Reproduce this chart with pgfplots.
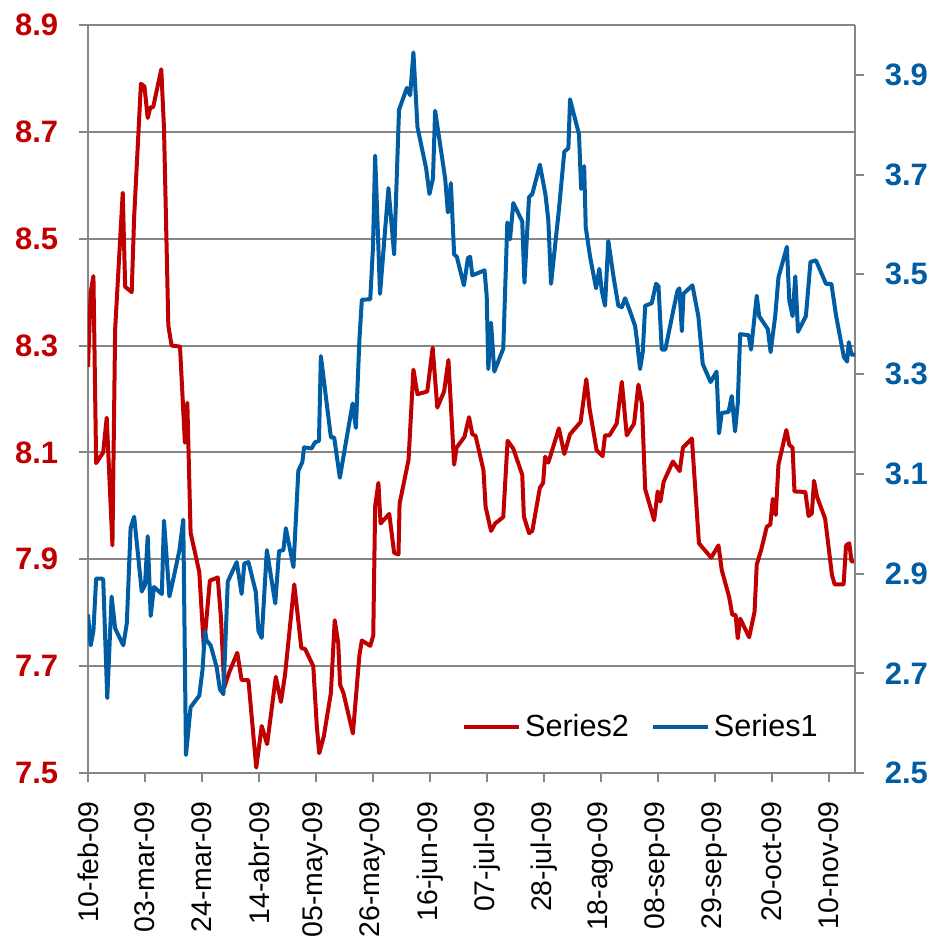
\documentclass[border=0pt]{standalone}
\usepackage{pgfplots}
\pgfplotsset{compat=1.18}
\usepackage{fontspec}
\setmainfont{Liberation Sans}
\definecolor{sred}{RGB}{192,0,0}
\definecolor{sblue}{RGB}{0,92,163}
\definecolor{ggray}{RGB}{134,134,134}

\pgfplotsset{
  common/.style={
    scale only axis, width=383.5pt, height=374pt,
    xmin=0, xmax=282.6,
    /pgf/number format/assume math mode=true,
    axis line style={draw=ggray, line width=1pt, -},
    every outer x axis line/.append style={-},
    every outer y axis line/.append style={-},
    tick style={draw=ggray, line width=1pt},
    tick align=outside,
    major tick length=4.5pt,
  }
}

\begin{document}
\begin{tikzpicture}
\path[use as bounding box] (-44pt,-82.5pt) rectangle (421.5pt,386.5pt);
\begin{axis}[
  common,
  ymin=7.5, ymax=8.9,
  axis x line*=bottom, axis y line*=left,
  xtick={0,21,42,63,84,105,126,147,168,189,210,231,252,273},
  xticklabels={10-feb-09,03-mar-09,24-mar-09,14-abr-09,05-may-09,26-may-09,16-jun-09,07-jul-09,28-jul-09,18-ago-09,08-sep-09,29-sep-09,20-oct-09,10-nov-09},
  xticklabel style={rotate=90, anchor=east, inner xsep=9.5pt, font=\fontsize{14.2}{17}\selectfont, text=black},
  ytick={7.5,7.7,7.9,8.1,8.3,8.5,8.7,8.9},
  yticklabel style={/pgf/number format/.cd, fixed, fixed zerofill, precision=1, /tikz/.cd, inner xsep=10.2pt, font=\fontsize{15.5}{18}\selectfont\bfseries, text=sred},
  ymajorgrids, grid style={draw=ggray, line width=1pt},
]
\addplot[sred, line width=2pt, line join=round] coordinates {
(0,8.26) (1,8.40) (2,8.43) (3,8.08) (5.6,8.10) (6.9,8.165) (9,7.926) (10,8.33)
(12.8,8.586) (13.7,8.41) (16.1,8.40) (17,8.54) (19.5,8.79) (20.8,8.785) (22,8.726)
(23,8.746) (24,8.746) (27,8.817) (28,8.707) (29.6,8.337) (30.8,8.30) (33.9,8.298)
(35.7,8.118) (36.6,8.193) (37.8,7.95) (41,7.876) (42.7,7.734) (44.9,7.86) (47.8,7.866)
(49,7.79) (50.2,7.66) (52,7.688) (55,7.725) (56.6,7.674) (59.1,7.674) (62,7.51)
(64,7.588) (66,7.554) (69.2,7.68) (71.1,7.633) (72.6,7.684) (76,7.853) (78.6,7.734)
(80,7.732) (83,7.70) (84.3,7.588) (85.2,7.537) (86.9,7.569) (89.5,7.65) (90.9,7.786)
(92.2,7.743) (92.9,7.665) (94.1,7.65) (97.6,7.574) (100,7.72) (100.9,7.748) (104,7.738)
(105.1,7.757) (105.8,7.999) (107,8.043) (107.8,7.967) (111,7.985) (112.8,7.912)
(114.4,7.909) (114.8,8.004) (118.1,8.086) (119.9,8.255) (121.4,8.209) (125,8.214)
(127,8.296) (128.7,8.184) (131.2,8.214) (132.8,8.273) (134.9,8.077) (135.8,8.109)
(138.7,8.129) (140.4,8.166) (141.6,8.134) (142.8,8.131) (145.7,8.067) (146.5,7.998)
(148.5,7.953) (150,7.967) (153,7.979) (154.6,8.122) (156.7,8.107) (160,8.058)
(160.6,7.98) (162.5,7.949) (163.7,7.953) (166.5,8.034) (167.7,8.043) (168.4,8.092)
(169.6,8.081) (173.5,8.145) (175.5,8.097) (177.6,8.134) (181.5,8.157) (183.6,8.237)
(184.8,8.182) (187.4,8.104) (189.6,8.093) (190.5,8.132) (192.1,8.132) (194.8,8.154)
(196.7,8.232) (198.5,8.132) (201.2,8.154) (202.8,8.227) (204.1,8.191) (205.3,8.031)
(208.6,7.973) (209.9,8.027) (210.9,8.008) (212.1,8.045) (215.5,8.083) (218,8.065)
(219.2,8.109) (222.5,8.126) (225.1,7.93) (229.6,7.903) (232.3,7.926) (233.5,7.88)
(236.2,7.83) (237.4,7.796) (238.6,7.796) (239.4,7.752) (240.3,7.789) (243.6,7.754)
(245.6,7.802) (246.4,7.89) (248,7.917) (250.1,7.961) (251.4,7.965) (252.3,8.013)
(253.4,7.983) (254.4,8.077) (257.3,8.142) (258.4,8.114) (259.6,8.109) (260.3,8.027)
(264.3,8.026) (265.5,7.981) (266.7,7.986) (267.5,8.047) (268.6,8.017) (271.6,7.976)
(274.1,7.871) (275.1,7.853) (278.4,7.853) (279.3,7.926) (280.5,7.93) (281.3,7.896)
(282.6,7.896)
};
\end{axis}
\begin{axis}[
  common,
  ymin=2.5, ymax=4.0,
  hide x axis, axis y line*=right,
  ytick={2.5,2.7,2.9,3.1,3.3,3.5,3.7,3.9},
  yticklabel style={/pgf/number format/.cd, fixed, fixed zerofill, precision=1, /tikz/.cd, inner xsep=10.2pt, font=\fontsize{15.5}{18}\selectfont\bfseries, text=sblue},
  legend columns=2,
  legend style={draw=none, fill=none, at={(axis description cs:0.957,0.0615)}, anchor=east,
    font=\fontsize{15.3}{18}\selectfont, inner sep=0pt,
    /tikz/every even column/.append style={column sep=9pt}},
  legend image code/.code={\draw[#1] (0pt,0pt) -- (27.5pt,0pt);},
]
\addlegendimage{sred, line width=2pt}
\addlegendentry{Series2}
\addplot[sblue, line width=2pt, line join=round] coordinates {
(0,2.818) (1,2.756) (2,2.785) (3,2.89) (5,2.89) (5.6,2.888) (7.1,2.65) (8.7,2.854)
(10,2.79) (13,2.756) (14.3,2.8) (15.7,2.991) (17,3.014) (19.8,2.864) (21,2.877)
(22,2.975) (23.1,2.815) (24.3,2.873) (27.2,2.859) (28,3.006) (30,2.854) (31.4,2.888)
(33.7,2.947) (35.1,3.008) (36.1,2.536) (37.8,2.632) (41,2.655) (42.2,2.707) (43.1,2.785)
(43.7,2.766) (45.2,2.756) (47.4,2.712) (48.6,2.668) (49.9,2.658) (51.5,2.884) (54.8,2.923)
(56.6,2.859) (57.6,2.92) (59.1,2.923) (61.8,2.864) (62.8,2.785) (64,2.771) (65.9,2.947)
(69,2.84) (70.4,2.945) (72,2.947) (72.9,2.991) (75.7,2.913) (77.5,3.106) (79,3.124)
(79.6,3.153) (82.4,3.151) (83.6,3.163) (85.1,3.166) (85.8,3.336) (89.5,3.173) (90.7,3.173)
(92.8,3.092) (94.7,3.153) (97.5,3.241) (98.7,3.192) (100,3.369) (100.9,3.449) (104,3.45)
(105,3.555) (105.8,3.738) (107.6,3.461) (110.7,3.673) (112.8,3.54) (114.6,3.83)
(117.5,3.874) (118.7,3.859) (119.9,3.945) (121.4,3.795) (124.6,3.712) (125.8,3.661)
(127.1,3.692) (127.9,3.828) (131.6,3.692) (132.6,3.624) (133.7,3.683) (134.9,3.54)
(135.9,3.535) (138.5,3.478) (140,3.533) (140.8,3.535) (141.6,3.498) (146.1,3.508)
(146.9,3.457) (147.5,3.31) (148.5,3.403) (149.7,3.305) (153,3.351) (154.5,3.604)
(155.5,3.57) (156.7,3.643) (160,3.606) (160.8,3.483) (162.5,3.655) (163.7,3.661)
(166.5,3.72) (168.6,3.658) (169.6,3.609) (170.6,3.481) (173.5,3.629) (175.5,3.746)
(177,3.753) (177.6,3.851) (180.9,3.781) (181.7,3.671) (182.8,3.717) (183.4,3.594)
(185,3.535) (187.2,3.472) (188.4,3.511) (189.3,3.467) (190.5,3.437) (191.7,3.567)
(193.6,3.496) (195.4,3.437) (196.7,3.434) (197.9,3.452) (199.5,3.429) (201.6,3.396)
(202.4,3.361) (203.4,3.31) (204.4,3.344) (205.3,3.437) (207.7,3.442) (209.3,3.481)
(210.2,3.476) (211.4,3.349) (212.7,3.349) (215.7,3.429) (217.2,3.467) (217.9,3.472)
(218.8,3.386) (219.4,3.461) (222.7,3.478) (224.9,3.415) (226.5,3.32) (229.4,3.284)
(231.6,3.305) (232.5,3.181) (233.5,3.222) (236,3.224) (237.2,3.256) (238.4,3.185)
(239.4,3.241) (240.3,3.38) (243.4,3.378) (244.3,3.349) (246.4,3.457) (247.3,3.416)
(250.5,3.39) (251.5,3.344) (253.2,3.416) (254.4,3.494) (257.5,3.555) (258.4,3.447)
(259.6,3.416) (260.6,3.496) (261.6,3.385) (264.5,3.416) (266.2,3.525) (268.2,3.528)
(271.9,3.481) (273.9,3.481) (275.6,3.418) (278.5,3.334) (279.7,3.325) (280.3,3.364)
(281.3,3.339) (282.6,3.339)
};
\addlegendentry{Series1}
\end{axis}
\end{tikzpicture}
\end{document}
